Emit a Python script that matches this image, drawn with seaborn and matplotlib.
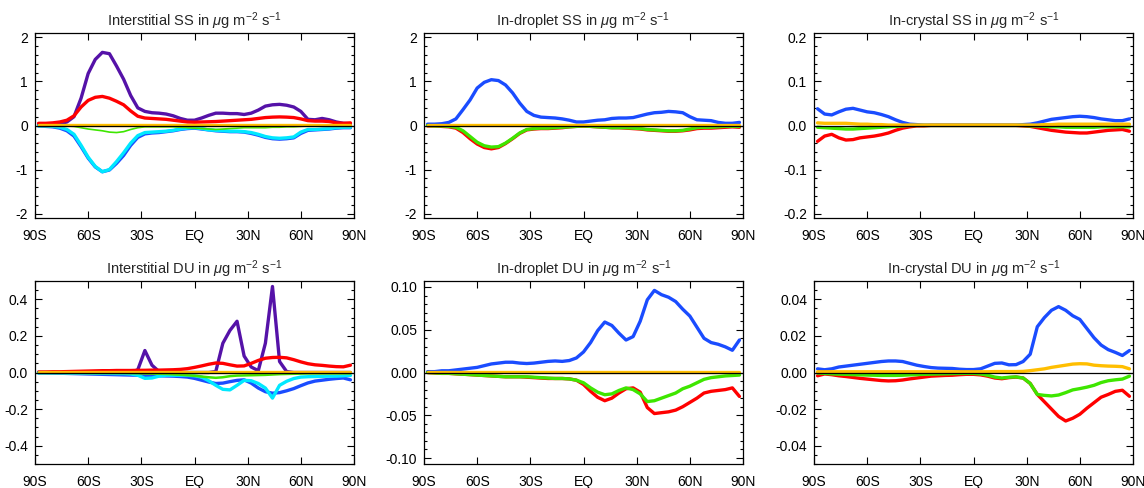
import numpy as np
import pandas as pd
import seaborn as sns
import matplotlib.pyplot as plt
from matplotlib.ticker import MultipleLocator, AutoMinorLocator, FormatStrFormatter

sns.set_style('ticks')
plt.rcParams['font.family'] = ['Liberation Sans', 'DejaVu Sans']
plt.rcParams['mathtext.fontset'] = 'custom'
plt.rcParams['mathtext.rm'] = 'Liberation Sans'
plt.rcParams['mathtext.it'] = 'Liberation Sans:italic'
plt.rcParams['axes.unicode_minus'] = False

# latitude grid (deg), -88 .. 88 every 4 deg
lat = np.arange(-88, 89, 4)
xticks = [-90, -60, -30, 0, 30, 60, 90]
xticklabels = ['90S', '60S', '30S', 'EQ', '30N', '60N', '90N']

PURPLE = '#5512a8'
RED = '#ff0000'
BLUE = '#1a4cff'
CYAN = '#00e8ff'
GREEN = '#3ee600'
YELLOW = '#ffbe00'

# ---------------- Interstitial SS ----------------
ss_int_purple = [0.03, 0.03, 0.03, 0.04, 0.08, 0.20, 0.62, 1.18, 1.50, 1.66, 1.63, 1.35, 1.05, 0.68, 0.40,
                 0.32, 0.29, 0.28, 0.26, 0.22, 0.16, 0.12, 0.12, 0.17, 0.23, 0.28, 0.28, 0.27, 0.27, 0.25,
                 0.28, 0.35, 0.44, 0.47, 0.48, 0.46, 0.42, 0.32, 0.14, 0.13, 0.16, 0.13, 0.08, 0.05, 0.04]
ss_int_red = [0.05, 0.05, 0.06, 0.08, 0.12, 0.22, 0.42, 0.57, 0.64, 0.66, 0.62, 0.55, 0.47, 0.33, 0.21,
              0.17, 0.16, 0.15, 0.14, 0.12, 0.10, 0.08, 0.075, 0.08, 0.085, 0.09, 0.10, 0.11, 0.12, 0.13,
              0.14, 0.16, 0.18, 0.19, 0.195, 0.19, 0.18, 0.15, 0.11, 0.10, 0.10, 0.09, 0.06, 0.05, 0.06]
ss_int_green = [0.0, 0.0, 0.0, -0.01, -0.01, -0.02, -0.05, -0.08, -0.10, -0.12, -0.15, -0.16, -0.14, -0.09, -0.05,
                -0.03, -0.03, -0.03, -0.03, -0.03, -0.04, -0.05, -0.06, -0.07, -0.08, -0.09, -0.08, -0.07, -0.06, -0.05,
                -0.05, -0.05, -0.05, -0.04, -0.04, -0.03, -0.03, -0.02, -0.01, -0.01, -0.01, -0.01, 0.0, 0.0, 0.0]
ss_int_blue = [-0.01, -0.02, -0.03, -0.06, -0.12, -0.24, -0.48, -0.74, -0.94, -1.05, -1.01, -0.86, -0.68, -0.45, -0.27,
               -0.19, -0.17, -0.16, -0.14, -0.12, -0.09, -0.07, -0.06, -0.08, -0.10, -0.12, -0.13, -0.14, -0.14, -0.15,
               -0.18, -0.22, -0.27, -0.30, -0.31, -0.30, -0.28, -0.18, -0.11, -0.10, -0.09, -0.08, -0.06, -0.05, -0.05]
ss_int_cyan = [-0.01, -0.01, -0.02, -0.04, -0.09, -0.20, -0.45, -0.72, -0.93, -1.05, -1.00, -0.82, -0.62, -0.40, -0.23,
               -0.16, -0.15, -0.14, -0.13, -0.11, -0.08, -0.06, -0.05, -0.07, -0.10, -0.11, -0.12, -0.13, -0.13, -0.14,
               -0.16, -0.20, -0.25, -0.28, -0.29, -0.28, -0.26, -0.15, -0.09, -0.09, -0.08, -0.07, -0.05, -0.04, -0.04]
ss_int_yellow = [0.01, 0.01, 0.01, 0.01, 0.01, 0.01, 0.01, 0.01, 0.01, 0.01, 0.01, 0.01, 0.01, 0.01, 0.01,
                 0.01, 0.01, 0.01, 0.01, 0.01, 0.01, 0.01, 0.01, 0.01, 0.01, 0.01, 0.01, 0.01, 0.01, 0.01,
                 0.01, 0.01, 0.01, 0.01, 0.01, 0.01, 0.01, 0.01, 0.01, 0.01, 0.01, 0.01, 0.01, 0.01, 0.01]

# ---------------- In-droplet SS ----------------
ss_drop_blue = [0.03, 0.03, 0.04, 0.07, 0.15, 0.36, 0.58, 0.85, 0.98, 1.04, 1.02, 0.92, 0.74, 0.51, 0.32,
                0.23, 0.19, 0.18, 0.17, 0.15, 0.12, 0.08, 0.08, 0.10, 0.12, 0.13, 0.16, 0.17, 0.17, 0.18,
                0.22, 0.26, 0.29, 0.30, 0.32, 0.31, 0.29, 0.20, 0.13, 0.12, 0.11, 0.07, 0.05, 0.05, 0.07]
ss_drop_red = [-0.01, -0.01, -0.02, -0.03, -0.06, -0.16, -0.30, -0.42, -0.50, -0.53, -0.50, -0.41, -0.30, -0.18, -0.10,
               -0.08, -0.07, -0.07, -0.06, -0.05, -0.03, -0.02, -0.015, -0.02, -0.03, -0.04, -0.05, -0.05, -0.06, -0.07,
               -0.08, -0.10, -0.11, -0.12, -0.13, -0.13, -0.12, -0.10, -0.07, -0.06, -0.06, -0.05, -0.04, -0.03, -0.04]
ss_drop_green = [0.0, -0.01, -0.01, -0.02, -0.04, -0.12, -0.25, -0.38, -0.46, -0.49, -0.48, -0.40, -0.29, -0.17, -0.09,
                 -0.07, -0.06, -0.06, -0.05, -0.04, -0.03, -0.02, -0.01, -0.02, -0.03, -0.04, -0.05, -0.05, -0.05, -0.06,
                 -0.07, -0.09, -0.10, -0.11, -0.12, -0.12, -0.11, -0.08, -0.05, -0.04, -0.04, -0.03, -0.02, -0.02, -0.02]
ss_drop_yellow = [0.01, 0.01, 0.01, 0.01, 0.01, 0.01, 0.01, 0.01, 0.01, 0.01, 0.01, 0.01, 0.01, 0.01, 0.01,
                  0.01, 0.01, 0.01, 0.01, 0.01, 0.01, 0.01, 0.01, 0.01, 0.01, 0.01, 0.01, 0.01, 0.01, 0.01,
                  0.01, 0.01, 0.01, 0.01, 0.01, 0.01, 0.01, 0.01, 0.01, 0.01, 0.01, 0.01, 0.01, 0.01, 0.01]

# ---------------- In-crystal SS ----------------
ss_cry_blue = [0.038, 0.026, 0.024, 0.031, 0.037, 0.039, 0.035, 0.031, 0.029, 0.025, 0.020, 0.013, 0.007, 0.003, 0.002,
               0.001, 0.001, 0.001, 0.001, 0.001, 0.001, 0.001, 0.001, 0.001, 0.001, 0.001, 0.001, 0.001, 0.001, 0.002,
               0.003, 0.006, 0.010, 0.014, 0.016, 0.018, 0.020, 0.021, 0.020, 0.018, 0.015, 0.013, 0.011, 0.011, 0.015]
ss_cry_red = [-0.036, -0.024, -0.020, -0.028, -0.033, -0.032, -0.028, -0.026, -0.024, -0.021, -0.017, -0.011, -0.006, -0.003, -0.001,
              -0.001, 0.0, 0.0, 0.0, 0.0, 0.0, 0.0, 0.0, 0.0, 0.0, 0.0, 0.0, 0.0, 0.0, -0.001,
              -0.002, -0.005, -0.008, -0.011, -0.013, -0.015, -0.016, -0.017, -0.017, -0.015, -0.013, -0.011, -0.010, -0.009, -0.013]
ss_cry_green = [-0.004, -0.005, -0.006, -0.007, -0.008, -0.008, -0.007, -0.006, -0.005, -0.004, -0.003, -0.002, -0.001, 0.0, 0.0,
                0.0, 0.0, 0.0, 0.0, 0.0, 0.0, 0.0, 0.0, 0.0, 0.0, 0.0, 0.0, 0.0, 0.0, 0.0,
                -0.001, -0.001, -0.002, -0.003, -0.003, -0.004, -0.004, -0.004, -0.004, -0.004, -0.003, -0.003, -0.003, -0.003, -0.003]
ss_cry_yellow = [0.006, 0.005, 0.005, 0.005, 0.005, 0.004, 0.003, 0.003, 0.002, 0.002, 0.001, 0.001, 0.001, 0.001, 0.001,
                 0.001, 0.001, 0.001, 0.001, 0.001, 0.001, 0.001, 0.001, 0.001, 0.001, 0.001, 0.001, 0.001, 0.001, 0.001,
                 0.001, 0.001, 0.002, 0.002, 0.003, 0.003, 0.003, 0.003, 0.003, 0.003, 0.003, 0.003, 0.003, 0.003, 0.003]

# ---------------- Interstitial DU ----------------
du_int_purple = [0.0, 0.0, 0.0, 0.0, 0.0, 0.0, 0.0, 0.0, 0.0, 0.0, 0.0, 0.0, 0.0, 0.0, 0.015,
                 0.12, 0.04, 0.005, 0.0, 0.0, 0.0, 0.0, 0.0, 0.0, 0.0, 0.005, 0.16, 0.23, 0.28, 0.09,
                 0.03, 0.01, 0.16, 0.47, 0.06, 0.005, 0.0, 0.0, 0.0, 0.0, 0.0, 0.0, 0.0, 0.0, 0.0]
du_int_red = [0.003, 0.003, 0.004, 0.004, 0.005, 0.006, 0.007, 0.008, 0.009, 0.010, 0.010, 0.011, 0.011, 0.011, 0.012,
              0.012, 0.013, 0.013, 0.014, 0.015, 0.017, 0.021, 0.028, 0.036, 0.045, 0.052, 0.050, 0.042, 0.035, 0.036,
              0.050, 0.066, 0.078, 0.082, 0.083, 0.080, 0.070, 0.058, 0.048, 0.042, 0.039, 0.035, 0.032, 0.031, 0.040]
du_int_green = [-0.001, -0.001, -0.001, -0.001, -0.001, -0.001, -0.001, -0.002, -0.002, -0.002, -0.002, -0.002, -0.002, -0.003, -0.004,
                -0.005, -0.006, -0.007, -0.008, -0.010, -0.012, -0.015, -0.018, -0.022, -0.026, -0.029, -0.026, -0.020, -0.017, -0.016,
                -0.015, -0.014, -0.013, -0.011, -0.009, -0.008, -0.007, -0.006, -0.005, -0.005, -0.005, -0.005, -0.005, -0.005, -0.005]
du_int_blue = [-0.001, -0.002, -0.003, -0.004, -0.005, -0.006, -0.007, -0.008, -0.009, -0.010, -0.011, -0.012, -0.013, -0.014, -0.015,
               -0.016, -0.017, -0.018, -0.019, -0.020, -0.022, -0.025, -0.032, -0.042, -0.052, -0.060, -0.058, -0.050, -0.043, -0.040,
               -0.058, -0.085, -0.105, -0.113, -0.110, -0.100, -0.088, -0.072, -0.057, -0.047, -0.042, -0.037, -0.033, -0.030, -0.040]
du_int_cyan = [-0.003, -0.003, -0.003, -0.003, -0.004, -0.004, -0.004, -0.004, -0.005, -0.005, -0.005, -0.006, -0.006, -0.008, -0.015,
               -0.032, -0.030, -0.020, -0.015, -0.015, -0.015, -0.015, -0.018, -0.025, -0.045, -0.070, -0.092, -0.095, -0.070, -0.043,
               -0.045, -0.060, -0.085, -0.140, -0.070, -0.048, -0.033, -0.025, -0.023, -0.022, -0.021, -0.020, -0.020, -0.018, -0.016]
du_int_yellow = [0.004, 0.004, 0.004, 0.004, 0.004, 0.004, 0.004, 0.004, 0.004, 0.004, 0.004, 0.004, 0.004, 0.004, 0.004,
                 0.004, 0.004, 0.004, 0.004, 0.004, 0.004, 0.004, 0.004, 0.004, 0.004, 0.004, 0.004, 0.004, 0.004, 0.004,
                 0.004, 0.004, 0.004, 0.004, 0.004, 0.004, 0.004, 0.004, 0.004, 0.004, 0.004, 0.004, 0.004, 0.004, 0.004]

# ---------------- In-droplet DU ----------------
du_drop_blue = [0.001, 0.001, 0.002, 0.002, 0.003, 0.004, 0.005, 0.006, 0.008, 0.010, 0.011, 0.012, 0.012, 0.011, 0.0105,
                0.011, 0.012, 0.013, 0.0135, 0.013, 0.014, 0.017, 0.024, 0.035, 0.049, 0.059, 0.055, 0.046, 0.038, 0.042,
                0.060, 0.085, 0.096, 0.091, 0.088, 0.083, 0.074, 0.066, 0.053, 0.040, 0.035, 0.033, 0.030, 0.026, 0.038]
du_drop_red = [0.0, -0.0005, -0.001, -0.001, -0.0015, -0.002, -0.0025, -0.003, -0.0035, -0.004, -0.0045, -0.005, -0.005, -0.005, -0.0055,
               -0.006, -0.0065, -0.007, -0.007, -0.007, -0.0075, -0.009, -0.014, -0.022, -0.029, -0.033, -0.030, -0.024, -0.019, -0.018,
               -0.023, -0.041, -0.048, -0.047, -0.046, -0.044, -0.040, -0.035, -0.030, -0.024, -0.022, -0.021, -0.020, -0.018, -0.028]
du_drop_green = [0.0, -0.0005, -0.001, -0.001, -0.0015, -0.002, -0.0025, -0.003, -0.0035, -0.004, -0.0045, -0.005, -0.005, -0.005, -0.005,
                 -0.0055, -0.006, -0.0065, -0.007, -0.007, -0.0075, -0.009, -0.012, -0.018, -0.023, -0.026, -0.025, -0.021, -0.018, -0.020,
                 -0.025, -0.034, -0.033, -0.030, -0.027, -0.024, -0.019, -0.016, -0.012, -0.008, -0.006, -0.005, -0.004, -0.0035, -0.003]
du_drop_yellow = [0.0008, 0.0008, 0.0008, 0.0008, 0.0008, 0.0008, 0.0008, 0.0008, 0.0008, 0.0008, 0.0008, 0.0008, 0.0008, 0.0008, 0.0008,
                  0.0008, 0.0008, 0.0008, 0.0008, 0.0008, 0.0008, 0.0008, 0.0008, 0.0008, 0.0008, 0.0008, 0.0008, 0.0008, 0.0008, 0.0008,
                  0.0008, 0.0008, 0.0008, 0.0008, 0.0008, 0.0008, 0.0008, 0.0008, 0.0008, 0.0008, 0.0008, 0.0008, 0.0008, 0.0008, 0.0008]

# ---------------- In-crystal DU ----------------
du_cry_blue = [0.002, 0.0015, 0.002, 0.003, 0.0035, 0.004, 0.0045, 0.005, 0.0055, 0.006, 0.0063, 0.0063, 0.006, 0.005, 0.004,
               0.0033, 0.0027, 0.0024, 0.0023, 0.0022, 0.0018, 0.0016, 0.0016, 0.002, 0.0035, 0.005, 0.0052, 0.0042, 0.0043, 0.006,
               0.010, 0.025, 0.030, 0.034, 0.036, 0.034, 0.031, 0.029, 0.024, 0.019, 0.015, 0.0125, 0.011, 0.0093, 0.012]
du_cry_red = [-0.0018, -0.0008, -0.0012, -0.0018, -0.0022, -0.0027, -0.0032, -0.0036, -0.004, -0.0044, -0.0046, -0.0045, -0.0041, -0.0035, -0.003,
              -0.0025, -0.002, -0.0018, -0.0016, -0.0015, -0.0012, -0.001, -0.001, -0.0013, -0.002, -0.003, -0.0034, -0.0028, -0.0025, -0.003,
              -0.006, -0.012, -0.016, -0.020, -0.024, -0.0265, -0.025, -0.0228, -0.0195, -0.0165, -0.0135, -0.012, -0.0103, -0.0097, -0.013]
du_cry_green = [-0.0003, -0.0005, -0.0007, -0.0009, -0.001, -0.0012, -0.0013, -0.0014, -0.0015, -0.0016, -0.0016, -0.0016, -0.0015, -0.0013, -0.0012,
                -0.001, -0.0009, -0.0008, -0.0007, -0.0006, -0.0005, -0.0005, -0.0005, -0.0008, -0.0015, -0.0025, -0.003, -0.0026, -0.0024, -0.003,
                -0.006, -0.012, -0.0125, -0.0128, -0.0123, -0.011, -0.0095, -0.0088, -0.008, -0.007, -0.0055, -0.0045, -0.004, -0.0036, -0.002]
du_cry_yellow = [0.0004, 0.0004, 0.0004, 0.0004, 0.0004, 0.0004, 0.0004, 0.0004, 0.0004, 0.0004, 0.0004, 0.0004, 0.0004, 0.0004, 0.0004,
                 0.0004, 0.0004, 0.0004, 0.0004, 0.0004, 0.0004, 0.0004, 0.0004, 0.0004, 0.0004, 0.0005, 0.0005, 0.0005, 0.0005, 0.0006,
                 0.001, 0.0015, 0.002, 0.0028, 0.0034, 0.004, 0.0046, 0.0048, 0.0047, 0.004, 0.0037, 0.0035, 0.0034, 0.0032, 0.002]

unit = r' in $\mu$g m$^{-2}$ s$^{-1}$'
panels = [
    ('Interstitial SS', [(ss_int_purple, PURPLE, 2.4), (ss_int_red, RED, 2.4), (ss_int_blue, BLUE, 2.4),
                         (ss_int_cyan, CYAN, 2.4), (ss_int_green, GREEN, 1.2), (ss_int_yellow, YELLOW, 2.4)],
     2.1, 1.0, '%d'),
    ('In-droplet SS', [(ss_drop_blue, BLUE, 2.4), (ss_drop_red, RED, 2.4), (ss_drop_green, GREEN, 2.4),
                       (ss_drop_yellow, YELLOW, 2.4)],
     2.1, 1.0, '%d'),
    ('In-crystal SS', [(ss_cry_blue, BLUE, 2.4), (ss_cry_red, RED, 2.4), (ss_cry_green, GREEN, 2.4),
                       (ss_cry_yellow, YELLOW, 2.4)],
     0.21, 0.1, '%.1f'),
    ('Interstitial DU', [(du_int_purple, PURPLE, 2.4), (du_int_red, RED, 2.4), (du_int_blue, BLUE, 2.4),
                         (du_int_cyan, CYAN, 2.4), (du_int_green, GREEN, 1.8), (du_int_yellow, YELLOW, 2.4)],
     0.5, 0.2, '%.1f'),
    ('In-droplet DU', [(du_drop_blue, BLUE, 2.4), (du_drop_red, RED, 2.4), (du_drop_green, GREEN, 2.4),
                       (du_drop_yellow, YELLOW, 2.4)],
     0.107, 0.05, '%.2f'),
    ('In-crystal DU', [(du_cry_blue, BLUE, 2.4), (du_cry_red, RED, 2.4), (du_cry_green, GREEN, 2.4),
                       (du_cry_yellow, YELLOW, 2.4)],
     0.05, 0.02, '%.2f'),
]

W, H = 1144, 488
lefts = [35, 424, 814]
rows = [(33, 218), (281, 464)]
axw = 319

fig = plt.figure(figsize=(W / 100, H / 100), dpi=100)

for i, (name, series, ylim, major, fmt) in enumerate(panels):
    r, c = divmod(i, 3)
    top, bot = rows[r]
    ax = fig.add_axes([lefts[c] / W, (H - bot) / H, axw / W, (bot - top) / H])
    for z, (vals, col, lw) in enumerate(series):
        sns.lineplot(x=lat, y=vals, color=col, linewidth=lw, ax=ax, zorder=2 + z * 0.1)
    ax.axhline(0, color='black', linewidth=0.9, zorder=5)
    ax.set_xlim(-90, 90)
    ax.set_ylim(-ylim, ylim)
    ax.set_xticks(xticks)
    ax.set_xticklabels(xticklabels)
    ax.yaxis.set_major_locator(MultipleLocator(major))
    ax.yaxis.set_minor_locator(AutoMinorLocator())
    ax.yaxis.set_major_formatter(FormatStrFormatter(fmt))
    ax.tick_params(axis='both', which='both', direction='in', top=True, right=True,
                   labelsize=10, colors='black')
    ax.tick_params(axis='both', which='major', length=5, width=0.8)
    ax.tick_params(axis='y', which='minor', length=2.5, width=0.8)
    ax.tick_params(axis='x', which='major', pad=8)
    ax.tick_params(axis='y', which='major', pad=5)
    for sp in ax.spines.values():
        sp.set_linewidth(0.9)
        sp.set_color('black')
    ax.set_xlabel('')
    ax.set_ylabel('')
    ax.set_title(name + unit, fontsize=10.5, pad=5)

fig.savefig('out.png', dpi=100)
